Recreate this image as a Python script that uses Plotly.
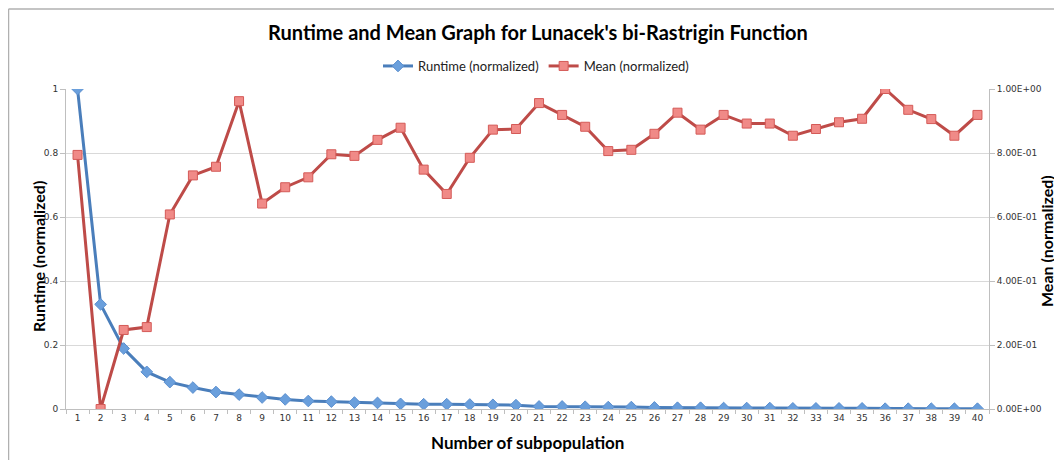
import plotly.graph_objects as go

subpop = list(range(1, 41))
runtime = [1.0, 0.327, 0.189, 0.116, 0.084, 0.067, 0.053, 0.045, 0.036, 0.030,
           0.025, 0.023, 0.020, 0.019, 0.016, 0.015, 0.015, 0.014, 0.013, 0.012,
           0.008, 0.008, 0.007, 0.006, 0.006, 0.005, 0.004, 0.004, 0.003, 0.003,
           0.003, 0.002, 0.002, 0.002, 0.002, 0.001, 0.001, 0.001, 0.001, 0.001]
mean = [0.794, 0.0, 0.247, 0.256, 0.608, 0.730, 0.757, 0.962, 0.642, 0.693,
        0.724, 0.796, 0.791, 0.841, 0.879, 0.748, 0.672, 0.785, 0.873, 0.875,
        0.956, 0.919, 0.882, 0.806, 0.810, 0.860, 0.926, 0.873, 0.919, 0.892,
        0.892, 0.854, 0.875, 0.896, 0.907, 1.0, 0.935, 0.906, 0.854, 0.919]
left_ticks = [0, 0.2, 0.4, 0.6, 0.8, 1]
left_labels = ["0", "0.2", "0.4", "0.6", "0.8", "1"]
right_labels = ["0.00E+00", "2.00E-01", "4.00E-01", "6.00E-01", "8.00E-01", "1.00E+00"]

fig = go.Figure()
fig.add_trace(go.Scatter(
    x=subpop, y=runtime, name="Runtime (normalized)", mode="lines+markers",
    line=dict(color="#4A7EBB", width=3),
    marker=dict(symbol="diamond", size=9, color="#6A9FDC", line=dict(color="#5B8FCF", width=1)),
    yaxis="y"))
fig.add_trace(go.Scatter(
    x=subpop, y=mean, name="Mean (normalized)", mode="lines+markers",
    line=dict(color="#BE4B48", width=3),
    marker=dict(symbol="square", size=9, color="#F08A87", line=dict(color="#D45A57", width=1)),
    yaxis="y2"))

axis_font = dict(family="DejaVu Sans", size=9, color="#333333")
title_font = dict(family="Lato", size=16, color="#000000")

# page body has an 8px margin: the figure starts at screen (8, 8)
OFF = 8
W, H = 1062 - OFF, 460 - OFF
L, R, T, B = 66 - OFF, 1062 - 989, 89 - OFF, 460 - 409
PW, PH = W - L - R, H - T - B


def px(xs):
    return (xs - OFF - L) / PW


def py(ys):
    return (H - B - (ys - OFF)) / PH


fig.update_layout(
    width=W, height=H,
    margin=dict(l=L, r=R, t=T, b=B, autoexpand=False),
    paper_bgcolor="white", plot_bgcolor="white",
    title=dict(text="<b>Runtime and Mean Graph for Lunacek's bi-Rastrigin Function</b>",
               x=px(538), xanchor="center", xref="paper", y=1 - (33 - OFF) / H, yanchor="middle",
               font=dict(family="Lato", size=20, color="#000000")),
    legend=dict(orientation="h", x=px(378), xanchor="left", y=1 - (66 - OFF) / H,
                yanchor="middle", yref="container",
                font=dict(family="Lato", size=13, color="#222222"),
                bgcolor="rgba(0,0,0,0)"),
    showlegend=True,
    xaxis=dict(range=[0.5, 40.5], tickmode="array", tickvals=subpop,
               ticktext=[str(v) for v in subpop], ticks="", automargin=False,
               tickfont=axis_font, showgrid=False, zeroline=False,
               showline=True, linecolor="#BFBFBF", linewidth=1,
               minor=dict(ticks="outside", tick0=0.5, dtick=1, ticklen=4, tickcolor="#BFBFBF", showgrid=False)),
    yaxis=dict(range=[0, 1], tickmode="array", tickvals=left_ticks, ticktext=left_labels,
               ticks="outside", ticklen=5, tickcolor="#BFBFBF", tickfont=axis_font, automargin=False,
               showgrid=True, gridcolor="#D9D9D9", gridwidth=1, zeroline=False,
               showline=True, linecolor="#BFBFBF", linewidth=1),
    yaxis2=dict(range=[0, 1], overlaying="y", side="right", tickmode="array",
                tickvals=left_ticks, ticktext=right_labels, automargin=False,
                ticks="outside", ticklen=5, tickcolor="#BFBFBF", tickfont=axis_font,
                showgrid=False, zeroline=False,
                showline=True, linecolor="#BFBFBF", linewidth=1),
)

# axis titles
fig.add_annotation(text="<b>Number of subpopulation</b>", xref="paper", yref="paper",
                   x=px(527), y=py(442), showarrow=False,
                   font=dict(family="Lato", size=17, color="#000000"),
                   xanchor="center", yanchor="middle")
fig.add_annotation(text="<b>Runtime (normalized)</b>", xref="paper", yref="paper",
                   x=px(38), y=py(257), showarrow=False, font=title_font, textangle=-90,
                   xanchor="center", yanchor="middle")
fig.add_annotation(text="<b>Mean (normalized)</b>", xref="paper", yref="paper",
                   x=px(1046), y=py(241), showarrow=False, font=title_font, textangle=-90,
                   xanchor="center", yanchor="middle")

# outer chart border (left and top edges)
fig.add_shape(type="line", xref="paper", yref="paper", x0=px(8.5), x1=px(8.5),
              y0=py(9), y1=py(470), line=dict(color="#B0B0B0", width=1.5))
fig.add_shape(type="line", xref="paper", yref="paper", x0=px(8.5), x1=px(1070),
              y0=py(9), y1=py(9), line=dict(color="#B0B0B0", width=1.5))

fig.write_html("out.html")
